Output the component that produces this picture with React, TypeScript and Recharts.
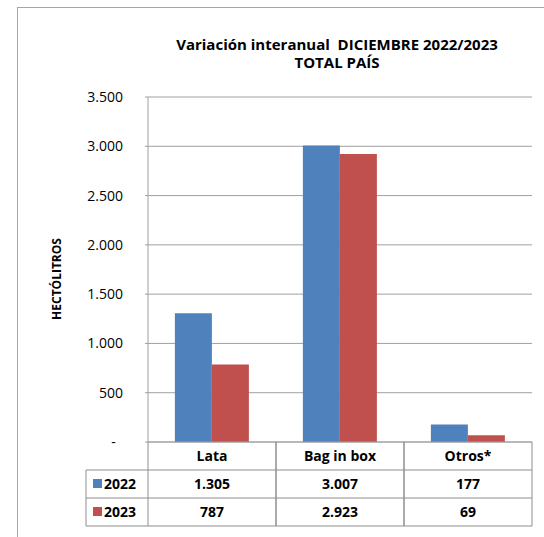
import { BarChart, Bar, XAxis, YAxis, CartesianGrid } from "recharts"

const categories = ["Lata", "Bag in box", "Otros*"]
const years = ["2022", "2023"]
const values2022 = [1305, 3007, 177]
const values2023 = [787, 2923, 69]
const yTicks = [0, 500, 1000, 1500, 2000, 2500, 3000, 3500]

const colors = ["#4F81BD", "#C0504D"]
const series = [values2022, values2023]

const data = categories.map((name, i) => ({
  name,
  y2022: values2022[i],
  y2023: values2023[i],
}))

const W = 544
const H = 537
const PLOT_LEFT = 148
const PLOT_RIGHT = 532
const X_AXIS_H = 95
const TABLE_TOP = H - X_AXIS_H
const ROW_H = 28
const BAND = (PLOT_RIGHT - PLOT_LEFT) / categories.length
const LEGEND_LEFT = 86
const FONT = "'Open Sans', sans-serif"
const BORDER = "#8e8e8e"

const fmt = (v: number) =>
  v === 0 ? "-\u00A0\u00A0" : v.toLocaleString("de-DE")

function TableColumn(props: any) {
  const { x, payload } = props
  const i = payload.index
  const left = x - BAND / 2
  const right = x + BAND / 2
  const bottom = TABLE_TOP + ROW_H * 3
  const textStyle = {
    fontFamily: FONT,
    fontSize: 14,
    fontWeight: 700,
    fill: "#000",
  }
  return (
    <g>
      <line x1={left} y1={TABLE_TOP} x2={left} y2={bottom} stroke={BORDER} />
      <line x1={right} y1={TABLE_TOP} x2={right} y2={bottom} stroke={BORDER} />
      {[1, 2, 3].map((r) => (
        <line
          key={r}
          x1={left}
          x2={right}
          y1={TABLE_TOP + ROW_H * r}
          y2={TABLE_TOP + ROW_H * r}
          stroke={BORDER}
        />
      ))}
      <text x={x} y={TABLE_TOP + ROW_H / 2 + 5} textAnchor="middle" style={textStyle}>
        {categories[i]}
      </text>
      {series.map((s, r) => (
        <text
          key={r}
          x={x}
          y={TABLE_TOP + ROW_H * (r + 1) + ROW_H / 2 + 5}
          textAnchor="middle"
          style={textStyle}
        >
          {s[i].toLocaleString("de-DE")}
        </text>
      ))}
      {i === 0 && (
        <g>
          <line x1={LEGEND_LEFT} y1={TABLE_TOP + ROW_H} x2={LEGEND_LEFT} y2={bottom} stroke={BORDER} />
          {[1, 2, 3].map((r) => (
            <line
              key={r}
              x1={LEGEND_LEFT}
              x2={left}
              y1={TABLE_TOP + ROW_H * r}
              y2={TABLE_TOP + ROW_H * r}
              stroke={BORDER}
            />
          ))}
          {years.map((yr, r) => (
            <g key={yr}>
              <rect
                x={LEGEND_LEFT + 7}
                y={TABLE_TOP + ROW_H * (r + 1) + ROW_H / 2 - 5}
                width={9}
                height={9}
                fill={colors[r]}
              />
              <text
                x={LEGEND_LEFT + 18}
                y={TABLE_TOP + ROW_H * (r + 1) + ROW_H / 2 + 5}
                style={textStyle}
              >
                {yr}
              </text>
            </g>
          ))}
        </g>
      )}
    </g>
  )
}

export default function App() {
  return (
    <div
      style={{
        position: "absolute",
        left: 0,
        top: 0,
        width: W,
        height: H,
        background: "#fff",
        fontFamily: FONT,
        overflow: "hidden",
      }}
    >
      <div
        style={{
          position: "absolute",
          left: 17,
          top: 7,
          width: W,
          height: H,
          borderLeft: "1.5px solid #a6a6a6",
          borderTop: "1.5px solid #a6a6a6",
        }}
      />
      <div
        style={{
          position: "absolute",
          left: 137,
          top: 35,
          width: 400,
          textAlign: "center",
          fontSize: 15,
          fontWeight: 700,
          lineHeight: "18px",
          color: "#000",
          whiteSpace: "pre",
        }}
      >
        {"Variación interanual  DICIEMBRE 2022/2023\nTOTAL PAÍS"}
      </div>
      <div
        style={{
          position: "absolute",
          left: 57 - 60,
          top: 279 - 8,
          width: 120,
          height: 16,
          lineHeight: "16px",
          textAlign: "center",
          fontSize: 12,
          fontWeight: 700,
          transform: "rotate(-90deg)",
          transformOrigin: "center",
        }}
      >
        HECTÓLITROS
      </div>
      <BarChart
        width={W}
        height={H}
        data={data}
        margin={{ top: 97, right: W - PLOT_RIGHT, left: 0, bottom: 0 }}
        barCategoryGap="21%"
        barGap={0}
        style={{ position: "absolute", left: 0, top: 0 }}
      >
        <CartesianGrid vertical={false} stroke="#a0a0a0" />
        <XAxis
          dataKey="name"
          height={X_AXIS_H}
          axisLine={{ stroke: "#a0a0a0" }}
          tickLine={false}
          tick={<TableColumn />}
          interval={0}
        />
        <YAxis
          width={PLOT_LEFT}
          domain={[0, 3500]}
          ticks={yTicks}
          tickFormatter={fmt}
          axisLine={{ stroke: "#a0a0a0" }}
          tickLine={{ stroke: "#a0a0a0" }}
          tickSize={3}
          tickMargin={22}
          tick={{ fill: "#000", fontSize: 14, fontFamily: FONT }}
        />
        <Bar dataKey="y2022" fill={colors[0]} isAnimationActive={false} />
        <Bar dataKey="y2023" fill={colors[1]} isAnimationActive={false} />
      </BarChart>
    </div>
  )
}
